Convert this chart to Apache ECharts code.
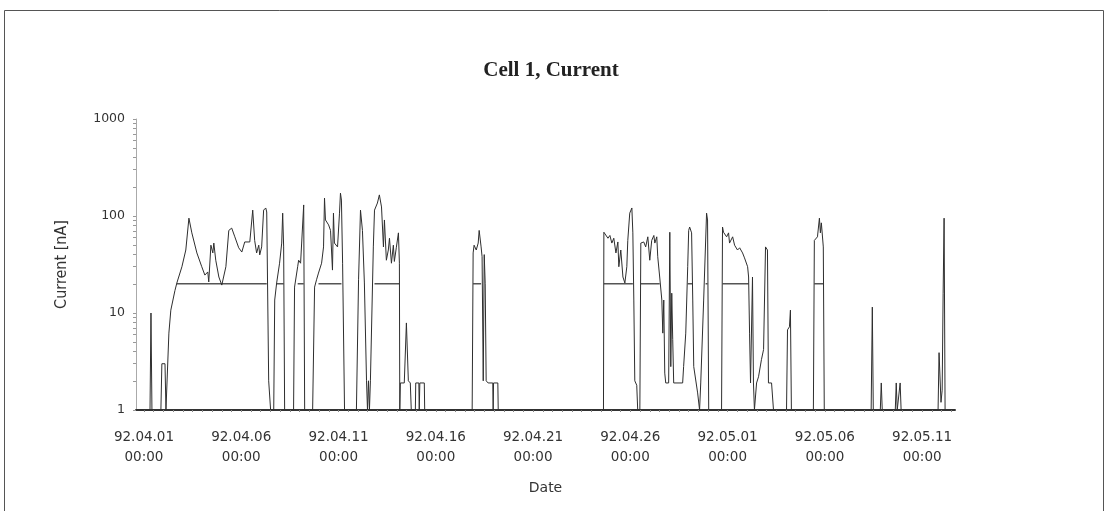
<!DOCTYPE html>
<html>
<head>
<meta charset="utf-8">
<script src="https://cdn.jsdelivr.net/npm/echarts@6/dist/echarts.min.js"></script>
<style>
html,body{margin:0;padding:0;background:#fff;}
#c{width:1107px;height:511px;}
</style>
</head>
<body>
<div id="c"></div>
<script>
// x values: days since 92.04.01 00:00
const xMin = -0.41, xMax = 41.69;
const xTickDays = [0, 5, 10, 15, 20, 25, 30, 35, 40];
const xTickLabels = ['92.04.01\n00:00','92.04.06\n00:00','92.04.11\n00:00','92.04.16\n00:00','92.04.21\n00:00','92.04.26\n00:00','92.05.01\n00:00','92.05.06\n00:00','92.05.11\n00:00'];
const yTickLabels = [1, 10, 100, 1000];
const yMinorTicks = [1,2,3,4,5,6,7,8,9,10,20,30,40,50,60,70,80,90,100,200,300,400,500,600,700,800,900,1000];

// Current [nA] readings: [day, value]
const currentDays = [-0.41,0.31,0.36,0.41,0.87,0.92,1.08,1.13,1.18,1.28,1.38,1.59,1.69,1.95,2.15,2.31,2.46,2.72,2.97,3.13,3.28,3.33,3.44,3.54,3.59,3.69,3.85,4.00,4.21,4.36,4.51,4.67,4.87,5.03,5.18,5.44,5.59,5.69,5.79,5.90,5.95,6.05,6.15,6.26,6.31,6.41,6.51,6.67,6.72,6.82,6.97,7.08,7.13,7.18,7.23,7.69,7.74,7.90,7.95,8.05,8.21,8.26,8.67,8.77,8.87,8.97,9.13,9.23,9.28,9.33,9.49,9.59,9.69,9.74,9.79,9.95,10.05,10.10,10.15,10.21,10.31,10.92,11.03,11.13,11.23,11.33,11.44,11.49,11.54,11.59,11.64,11.69,11.79,11.85,12.00,12.10,12.21,12.31,12.36,12.46,12.56,12.62,12.72,12.82,12.87,12.97,13.08,13.13,13.15,13.18,13.38,13.49,13.59,13.69,13.74,13.95,13.97,14.13,14.15,14.18,14.41,14.43,16.87,16.92,16.97,17.08,17.18,17.23,17.33,17.38,17.44,17.49,17.54,17.59,17.69,17.93,17.95,17.97,18.19,18.21,23.62,23.64,23.85,23.95,24.05,24.15,24.26,24.36,24.41,24.51,24.62,24.72,24.82,24.87,24.97,25.08,25.13,25.18,25.23,25.33,25.38,25.49,25.54,25.69,25.79,25.90,26.00,26.10,26.21,26.26,26.36,26.41,26.51,26.62,26.67,26.72,26.77,26.82,26.97,27.03,27.08,27.13,27.18,27.23,27.69,27.74,27.85,27.95,28.00,28.05,28.15,28.21,28.26,28.46,28.56,28.62,28.77,28.92,28.97,29.03,29.69,29.74,29.79,29.95,30.05,30.10,30.26,30.36,30.51,30.62,30.77,30.87,31.03,31.08,31.13,31.18,31.23,31.28,31.33,31.38,31.49,31.59,31.74,31.85,31.95,32.05,32.10,32.26,32.36,33.03,33.08,33.18,33.23,33.28,34.41,34.46,34.56,34.62,34.72,34.77,34.82,34.87,34.92,34.97,37.38,37.44,37.49,37.85,37.90,37.95,38.62,38.67,38.72,38.82,38.87,38.92,40.82,40.87,40.97,41.03,41.08,41.13,41.18,41.69];
const currentValues = [1,1,10,1,1,3,3,1,1,6.2,10.7,17,20.4,30,44.6,95,67,41.6,30,24.6,26.5,20.9,50,41.6,52.6,35,23.5,19.4,30,71,75,61,47,42.5,54,54,115,56,41.6,50,39.7,48,115,121,110,2,1,1,13.6,20.4,32.6,52.6,107,48,1,1,18.5,30,35,32.6,130,1,1,18.5,22,25.8,32.6,48,153,91,81,71,27.7,107,52.6,48,107,172,146,32.6,1,1,22,115,71,20.4,2,1,2,1,2,2,48,115,136,165,124,48,91,35,44.6,59,32.6,50,34,47,67,32.6,1,1.9,1.9,7.9,2,1.9,1,1,1.9,1.9,1,1.9,1.9,1,1,41.6,50,44.6,52.6,71,48,38,2,40,20,2,1.9,1.9,1,1.9,1.9,1,1,68,59,63,52.6,59,41.6,54,30,44.6,23.5,20.4,30,56,107,121,67,13.6,2,1.8,1,1,52.6,54,48,61,35,56,63,52.6,61,38,23.5,13.6,6.2,13.6,2.4,1.9,1.9,68,2.8,16,5.3,1.9,1.9,2.8,6.2,30,71,77,67,13.6,2.8,1.5,1,1.9,13.6,107,91,1,1,77,68,61,67,52.6,61,50,44.6,47,41.6,37,30,23.5,6.2,1.9,1.9,23.5,1.9,1,1.9,2.2,3.3,4.2,48,44.6,1.9,1.9,1,1,6.7,7.2,10.7,1,1,56,54,61,95,67,85,87,48,1,1,11.5,1,1,1.9,1,1,1.9,1,1,1.9,1,1,3.9,1.2,1.6,16,95,1,1];

// Level line at 20 nA: [start day, end day] of each visible segment
const levelValue = 20;
const levelStarts = [1.69, 6.82, 7.90, 8.97, 11.85, 16.92, 23.64, 25.54, 27.95, 28.87, 29.74, 34.46];
const levelEnds   = [6.31, 7.18, 8.21, 10.15, 13.13, 17.33, 25.13, 26.51, 28.21, 28.97, 31.08, 34.92];

const currentData = currentDays.map((d, i) => [d, currentValues[i]]);
const levelData = [];
levelStarts.forEach((s, i) => {
  levelData.push([s, levelValue]);
  levelData.push([levelEnds[i], levelValue]);
  levelData.push([levelEnds[i], '-']);
});

const xMinorTicks = [];
for (let d = 0; d <= 41.5; d += 0.5) xMinorTicks.push(d);

const chart = echarts.init(document.getElementById('c'), null, {renderer: 'canvas'});
chart.setOption({
  backgroundColor: '#ffffff',
  animation: false,
  title: {
    text: 'Cell 1, Current',
    left: 546, textAlign: 'center',
    top: 55,
    textStyle: {fontFamily: 'Liberation Serif', fontWeight: 'bold', fontSize: 21, color: '#222'}
  },
  graphic: [{
    type: 'rect', shape: {x: 4.5, y: 10.5, width: 1099, height: 520},
    style: {fill: 'none', stroke: '#555', lineWidth: 1}, silent: true
  }],
  grid: {left: 136, right: 152, top: 119, bottom: 101},
  xAxis: {
    type: 'value', min: xMin, max: xMax,
    name: 'Date', nameLocation: 'middle', nameGap: 71,
    nameTextStyle: {fontFamily: 'DejaVu Sans', fontSize: 14, color: '#333'},
    axisLine: {show: true, onZero: false, lineStyle: {color: '#333', width: 2}},
    axisTick: {show: true, customValues: xMinorTicks, length: 2, inside: false, lineStyle: {color: '#888', width: 1}},
    axisLabel: {
      customValues: xTickDays, margin: 17, lineHeight: 20,
      fontFamily: 'DejaVu Sans', fontSize: 13.5, color: '#333',
      formatter: v => { const i = xTickDays.indexOf(Math.round(v)); return i >= 0 ? xTickLabels[i] : ''; }
    },
    splitLine: {show: false}
  },
  yAxis: {
    type: 'log', logBase: 10, min: 1, max: 1000,
    name: 'Current [nA]', nameLocation: 'middle', nameGap: 66, nameRotate: 90,
    nameTextStyle: {fontFamily: 'DejaVu Sans Condensed, Liberation Sans Narrow', fontSize: 16, color: '#333'},
    axisLine: {show: true, onZero: false, lineStyle: {color: '#aaa', width: 1}},
    axisTick: {show: true, customValues: yMinorTicks, length: 3, inside: false, lineStyle: {color: '#999'}},
    axisLabel: {customValues: yTickLabels, margin: 11, fontFamily: 'DejaVu Sans', fontSize: 12.5, color: '#333',
      formatter: v => String(Math.round(v))},
    splitLine: {show: false}
  },
  series: [
    {
      type: 'line', name: 'Level', data: levelData, symbol: 'none', connectNulls: false,
      lineStyle: {color: '#555', width: 1.4}, z: 2
    },
    {
      type: 'line', name: 'Current', data: currentData, symbol: 'none',
      lineStyle: {color: '#2e2e2e', width: 1}, z: 3
    }
  ]
});
</script>
</body>
</html>
